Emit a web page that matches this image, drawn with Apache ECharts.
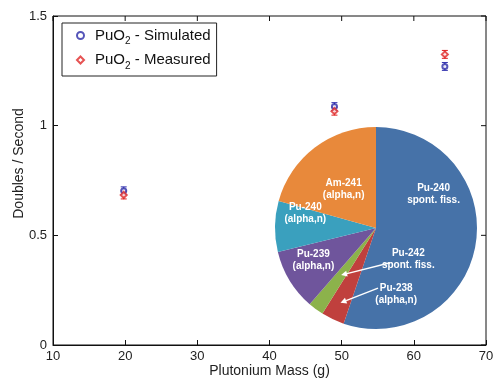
<!DOCTYPE html>
<html><head><meta charset="utf-8">
<script src="https://cdn.jsdelivr.net/npm/echarts@6/dist/echarts.min.js"></script>
<style>html,body{margin:0;padding:0;background:#fff}#c{width:497px;height:381px}</style>
</head><body><div id="c"></div>
<script>
// ---- data ----
const massSim = [19.8, 49.0, 64.3];
const doublesSim = [0.703, 1.087, 1.27];
const errSim = [0.018, 0.018, 0.018];
const massMeas = [19.8, 49.0, 64.3];
const doublesMeas = [0.684, 1.066, 1.325];
const errMeas = [0.018, 0.018, 0.018];
const pieNames = ['Pu-240\nspont. fiss.', 'Pu-238\n(alpha,n)', 'Pu-242\nspont. fiss.', 'Pu-239\n(alpha,n)', 'Pu-240\n(alpha,n)', 'Am-241\n(alpha,n)'];
const pieValues = [55.2, 3.7, 2.5, 9.8, 8.1, 20.7];
const xTickValues = [10, 20, 30, 40, 50, 60, 70];
const yTickValues = [0, 0.5, 1, 1.5];

// ---- layout / style ----
const pieColors = ['#4672a8', '#c0403d', '#8cb24b', '#6f559c', '#3aa0be', '#e8893b'];
const pieCenter = [376, 228];
const pieR = 101;
// label centres relative to pie centre, in radius units
const labelRel = [[0.57, -0.33], [0.20, 0.655], [0.32, 0.31], [-0.62, 0.32], [-0.70, -0.15], [-0.32, -0.38]];
// arrows: [dataIndex, start (radius units rel. centre), tip fraction of radius]
const arrows = [[2, [0.14, 0.345], 0.58], [1, [0.02, 0.595], 0.82]];

const total = pieValues.reduce((a, b) => a + b, 0);
function midAngle(i) {
  let acc = 0;
  for (let k = 0; k < i; k++) acc += pieValues[k];
  return (acc + pieValues[i] / 2) / total * 2 * Math.PI;
}
const graphics = [];
arrows.forEach(([i, st, f]) => {
  const a = midAngle(i);
  const tx = pieCenter[0] + Math.sin(a) * pieR * f;
  const ty = pieCenter[1] - Math.cos(a) * pieR * f;
  const sx = pieCenter[0] + st[0] * pieR;
  const sy = pieCenter[1] + st[1] * pieR;
  const dx = tx - sx, dy = ty - sy, L = Math.hypot(dx, dy);
  const ux = dx / L, uy = dy / L, h = 6, w = 3;
  const bx = tx - ux * h, by = ty - uy * h;
  graphics.push({ type: 'line', z: 100, shape: { x1: sx, y1: sy, x2: bx, y2: by }, style: { stroke: '#fff', lineWidth: 1.5 } });
  graphics.push({ type: 'polygon', z: 100, shape: { points: [[tx, ty], [bx - uy * w, by + ux * w], [bx + uy * w, by - ux * w]] }, style: { fill: '#fff' } });
});

function errBars(xs, ys, es) { return xs.map((x, i) => [x, ys[i] - es[i], ys[i] + es[i]]); }
function errRender(color) {
  return function (params, api) {
    const x = api.value(0);
    const p1 = api.coord([x, api.value(1)]);
    const p2 = api.coord([x, api.value(2)]);
    const cw = 3;
    const st = { stroke: color, lineWidth: 1 };
    return { type: 'group', children: [
      { type: 'line', shape: { x1: p1[0], y1: p1[1], x2: p2[0], y2: p2[1] }, style: st },
      { type: 'line', shape: { x1: p1[0] - cw, y1: p1[1], x2: p1[0] + cw, y2: p1[1] }, style: st },
      { type: 'line', shape: { x1: p2[0] - cw, y1: p2[1], x2: p2[0] + cw, y2: p2[1] }, style: st }
    ] };
  };
}
// box frame with mirrored inward ticks on top and right, derived from the axes
function frameRender(params, api) {
  const cs = params.coordSys;
  const st = { stroke: '#111', lineWidth: 1, fill: null };
  const kids = [{ type: 'rect', shape: { x: cs.x, y: cs.y, width: cs.width, height: cs.height }, style: st }];
  const tl = 5;
  xTickValues.forEach(v => {
    const p = api.coord([v, yTickValues[yTickValues.length - 1]]);
    kids.push({ type: 'line', shape: { x1: p[0], y1: p[1], x2: p[0], y2: p[1] + tl }, style: st });
  });
  yTickValues.forEach(v => {
    const p = api.coord([xTickValues[xTickValues.length - 1], v]);
    kids.push({ type: 'line', shape: { x1: p[0], y1: p[1], x2: p[0] - tl, y2: p[1] }, style: st });
  });
  return { type: 'group', children: kids };
}

const FONT = 'Liberation Sans, Arial, sans-serif';
const axisLineCommon = { show: true, onZero: false, lineStyle: { color: '#111', width: 1 } };
const axisTickCommon = { show: true, inside: true, length: 5, lineStyle: { color: '#111' } };
const legendNames = ['PuO2 - Simulated', 'PuO2 - Measured'];

const chart = echarts.init(document.getElementById('c'));
chart.setOption({
  animation: false,
  grid: { left: 53, right: 11, top: 16, bottom: 36, outerBoundsMode: 'none', containLabel: false },
  xAxis: {
    type: 'value', position: 'bottom', min: 10, max: 70, interval: 10,
    name: 'Plutonium Mass (g)', nameLocation: 'middle', nameGap: 19, nameMoveOverlap: false,
    nameTextStyle: { fontFamily: FONT, fontSize: 14, color: '#222' },
    axisLine: axisLineCommon, axisTick: axisTickCommon, splitLine: { show: false },
    axisLabel: { fontFamily: FONT, fontSize: 13, color: '#222', margin: 5,
      formatter: v => xTickValues.includes(v) ? String(v) : '' }
  },
  yAxis: {
    type: 'value', position: 'left', min: 0, max: 1.5, interval: 0.5,
    name: 'Doubles / Second', nameLocation: 'middle', nameGap: 27, nameMoveOverlap: false,
    nameTextStyle: { fontFamily: FONT, fontSize: 14, color: '#222', padding: [0, 0, 0, 34] },
    axisLine: axisLineCommon, axisTick: axisTickCommon, splitLine: { show: false },
    axisLabel: { fontFamily: FONT, fontSize: 13, color: '#222', margin: 6,
      formatter: v => yTickValues.includes(v) ? String(v) : '' }
  },
  legend: {
    data: legendNames,
    orient: 'vertical',
    left: 62, top: 23,
    padding: [5, 6, 5, 14],
    itemGap: 6,
    itemWidth: 7, itemHeight: 7,
    backgroundColor: '#fff',
    borderColor: '#222', borderWidth: 1,
    formatter: name => name === legendNames[0] ? '{g|}{a|PuO}{s|2}{a| - Simulated}' : '{g|}{a|PuO}{s|2}{a| - Measured}',
    textStyle: {
      fontFamily: FONT,
      rich: {
        g: { width: 6 },
        a: { fontFamily: FONT, fontSize: 15, color: '#111', lineHeight: 22 },
        s: { fontFamily: FONT, fontSize: 10, color: '#111', verticalAlign: 'bottom', lineHeight: 8 }
      }
    }
  },
  graphic: graphics,
  series: [
    { type: 'custom', name: 'frame', renderItem: frameRender, data: [[10, 0]], silent: true, z: 3, clip: false },
    { type: 'pie', name: 'sources', center: pieCenter, radius: pieR, startAngle: 90, clockwise: true,
      silent: true,
      data: pieNames.map((n, i) => ({ name: n, value: pieValues[i], itemStyle: { color: pieColors[i] } })),
      itemStyle: { borderWidth: 0 },
      label: { show: true, position: 'inside', formatter: '{b}', color: '#fff', fontFamily: FONT, fontWeight: 'bold', fontSize: 10, lineHeight: 12, align: 'center' },
      labelLine: { show: false },
      labelLayout: function (p) {
        const r = labelRel[p.dataIndex];
        return { x: pieCenter[0] + r[0] * pieR, y: pieCenter[1] + r[1] * pieR, align: 'center', verticalAlign: 'middle' };
      }
    },
    { type: 'custom', name: 'errSim', renderItem: errRender('#3535b0'), data: errBars(massSim, doublesSim, errSim), z: 5 },
    { type: 'custom', name: 'errMeas', renderItem: errRender('#e02020'), data: errBars(massMeas, doublesMeas, errMeas), z: 5 },
    { type: 'scatter', name: legendNames[0], data: massSim.map((x, i) => [x, doublesSim[i]]),
      symbol: 'emptyCircle', symbolSize: 5, itemStyle: { color: '#2a2aa8', borderWidth: 1 }, z: 6 },
    { type: 'scatter', name: legendNames[1], data: massMeas.map((x, i) => [x, doublesMeas[i]]),
      symbol: 'emptyDiamond', symbolSize: 6, itemStyle: { color: '#e02828', borderWidth: 1 }, z: 6 }
  ]
});
</script></body></html>
